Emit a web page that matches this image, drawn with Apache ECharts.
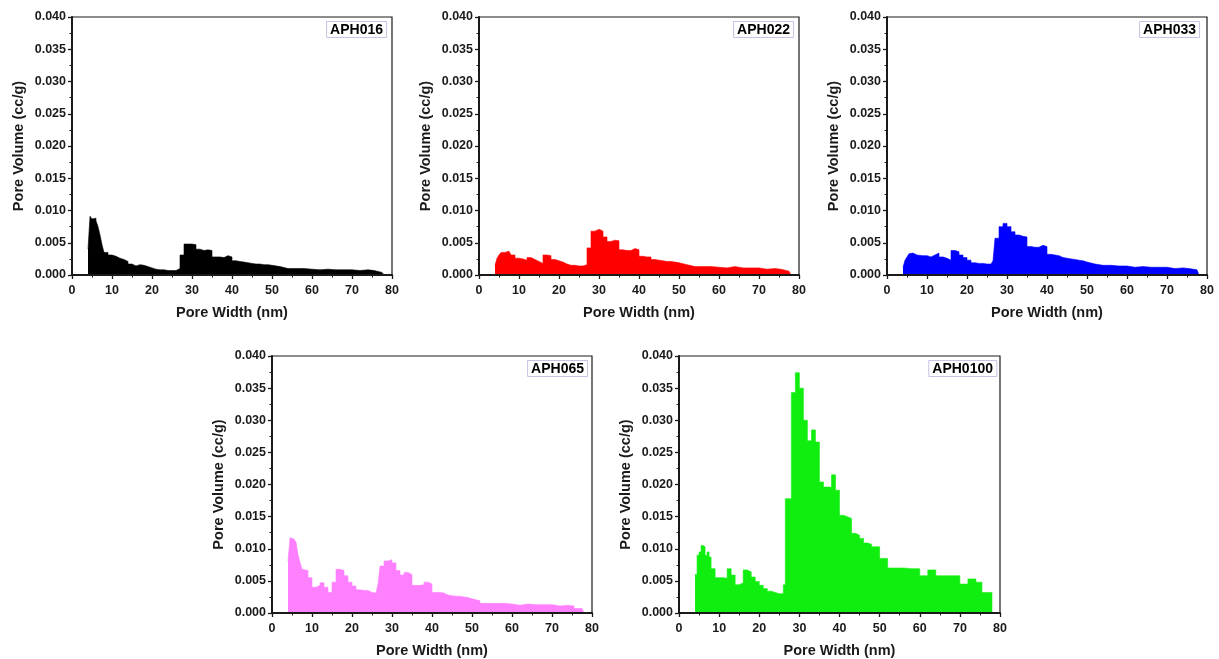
<!DOCTYPE html>
<html>
<head>
<meta charset="utf-8">
<script src="https://cdn.jsdelivr.net/npm/echarts@6/dist/echarts.min.js"></script>
<style>
    html, body {margin: 0; padding: 0; background: #fff;}
    #chart {width: 1219px; height: 659px;}
</style>
</head>
<body>
<div id="chart"></div>
<script>
// pore width grid (nm), shared by all samples
var poreWidth = [4, 4.5, 5, 5.5, 6, 6.5, 7, 7.5, 8,
    9, 10, 11, 12, 13, 14, 15, 16, 17, 18, 19, 20, 21, 22, 23, 24, 25, 26, 26.5,
    27, 28, 29, 30, 31, 32, 33, 34, 35, 36, 37, 38, 39, 40, 41, 42, 43, 44, 45, 46, 47, 48, 49, 50,
    52, 54, 56, 58, 60, 62, 64, 66, 68, 70, 72, 74, 75.5, 77.5, 78];

var aph016 = [0.0040, 0.0091, 0.0087, 0.0088, 0.0084, 0.0075, 0.0062, 0.0047, 0.0035,
    0.0031, 0.0029, 0.0026, 0.0024, 0.0021, 0.0017, 0.0014, 0.0016, 0.0015, 0.0013, 0.0011, 0.0009, 0.0008, 0.0008, 0.0007, 0.0007, 0.0007, 0.0007, 0.0010,
    0.0031, 0.0048, 0.0048, 0.0047, 0.0040, 0.0038, 0.0039, 0.0038, 0.0028, 0.0028, 0.0027, 0.0030, 0.0028, 0.0022, 0.0021, 0.0020, 0.0019, 0.0018, 0.0017, 0.0017, 0.0016, 0.0016, 0.0015, 0.0013,
    0.0010, 0.0010, 0.0010, 0.0009, 0.0008, 0.0009, 0.0008, 0.0008, 0.0008, 0.0007, 0.0008, 0.0007, 0.0004, 0.0002, 0];

var aph022 = [0.0015, 0.0026, 0.0031, 0.0035, 0.0035, 0.0036, 0.0037, 0.0035, 0.0031,
    0.0026, 0.0025, 0.0023, 0.0027, 0.0024, 0.0021, 0.0018, 0.0031, 0.0030, 0.0024, 0.0022, 0.0020, 0.0017, 0.0015, 0.0015, 0.0014, 0.0014, 0.0015, 0.0016,
    0.0042, 0.0068, 0.0071, 0.0068, 0.0059, 0.0052, 0.0054, 0.0053, 0.0039, 0.0038, 0.0038, 0.0041, 0.0039, 0.0029, 0.0028, 0.0028, 0.0024, 0.0023, 0.0022, 0.0021, 0.0021, 0.0020, 0.0019, 0.0016,
    0.0013, 0.0013, 0.0013, 0.0012, 0.0011, 0.0013, 0.0011, 0.0011, 0.0011, 0.0009, 0.0010, 0.0009, 0.0006, 0.0006, 0];

var aph033 = [0.0012, 0.0023, 0.0028, 0.0033, 0.0034, 0.0032, 0.0031, 0.0032, 0.0030,
    0.0030, 0.0028, 0.0031, 0.0034, 0.0028, 0.0026, 0.0023, 0.0038, 0.0036, 0.0031, 0.0027, 0.0023, 0.0019, 0.0018, 0.0018, 0.0017, 0.0017, 0.0018, 0.0022,
    0.0057, 0.0075, 0.0080, 0.0075, 0.0067, 0.0062, 0.0060, 0.0059, 0.0044, 0.0043, 0.0043, 0.0046, 0.0044, 0.0032, 0.0031, 0.0030, 0.0027, 0.0026, 0.0025, 0.0024, 0.0023, 0.0022, 0.0020, 0.0017,
    0.0015, 0.0015, 0.0014, 0.0014, 0.0012, 0.0013, 0.0012, 0.0012, 0.0012, 0.0010, 0.0011, 0.0010, 0.0008, 0.0006, 0];

var aph065 = [0.0080, 0.0117, 0.0115, 0.0116, 0.0110, 0.0091, 0.0079, 0.0068, 0.0066,
    0.0055, 0.0040, 0.0043, 0.0047, 0.0040, 0.0032, 0.0048, 0.0068, 0.0066, 0.0058, 0.0048, 0.0042, 0.0036, 0.0035, 0.0035, 0.0032, 0.0031, 0.0031, 0.0045,
    0.0073, 0.0081, 0.0083, 0.0078, 0.0066, 0.0059, 0.0063, 0.0060, 0.0043, 0.0043, 0.0044, 0.0048, 0.0045, 0.0032, 0.0032, 0.0031, 0.0028, 0.0027, 0.0026, 0.0026, 0.0025, 0.0024, 0.0022, 0.0019,
    0.0015, 0.0015, 0.0015, 0.0014, 0.0012, 0.0014, 0.0013, 0.0013, 0.0013, 0.0011, 0.0012, 0.0011, 0.0007, 0.0005, 0];

var aph0100 = [0.0060, 0.0090, 0.0095, 0.0105, 0.0103, 0.0090, 0.0095, 0.0087, 0.0069,
    0.0055, 0.0055, 0.0054, 0.0069, 0.0059, 0.0044, 0.0047, 0.0067, 0.0064, 0.0056, 0.0049, 0.0043, 0.0038, 0.0034, 0.0032, 0.0030, 0.0030, 0.0044, 0.0178,
    0.0178, 0.0343, 0.0374, 0.0350, 0.0300, 0.0268, 0.0285, 0.0266, 0.0204, 0.0196, 0.0196, 0.0215, 0.0191, 0.0152, 0.0150, 0.0147, 0.0124, 0.0121, 0.0116, 0.0109, 0.0107, 0.0103, 0.0103, 0.0085,
    0.0070, 0.0070, 0.0069, 0.0069, 0.0058, 0.0067, 0.0058, 0.0058, 0.0058, 0.0045, 0.0053, 0.0048, 0.0032, 0.0032, 0];

var sampleNames = ['APH016', 'APH022', 'APH033', 'APH065', 'APH0100'];
var sampleData = [aph016, aph022, aph033, aph065, aph0100];
var sampleColors = ['#000000', '#ff0000', '#0000ff', '#ff80ff', '#10ee10'];

// panel boxes [left, top, width, height] and label box right offset
var panels = [
    [72, 17, 320, 258],
    [479, 17, 320, 258],
    [887, 17, 320, 258],
    [272, 356, 320, 258],
    [679, 356, 321, 258]
];
var labelRight = [832, 425, 19, 631, 222];

var font = "'Liberation Sans', Arial, sans-serif";

var myChart = echarts.init(document.getElementById('chart'));

var grids = [], xAxes = [], yAxes = [], series = [], titles = [];
panels.forEach(function (p, i) {
    grids.push({
        left: p[0], top: p[1], width: p[2], height: p[3],
        show: true, borderColor: '#1a1a1a', borderWidth: 1.2, backgroundColor: '#fff'
    });
    xAxes.push({
        type: 'value', gridIndex: i, min: 0, max: 80, interval: 10, z: 5,
        name: 'Pore Width (nm)', nameLocation: 'middle', nameGap: 30,
        nameTextStyle: {fontFamily: font, fontWeight: 'bold', fontSize: 14.5, color: '#1a1a1a'},
        axisLine: {show: true, lineStyle: {color: '#1a1a1a', width: 2}},
        axisTick: {show: true, length: 4, lineStyle: {color: '#1a1a1a', width: 1.3}},
        minorTick: {show: true, splitNumber: 2, length: 2.5, lineStyle: {color: '#1a1a1a', width: 1}},
        splitLine: {show: false},
        axisLabel: {fontFamily: font, fontWeight: 'bold', fontSize: 12.5, color: '#1a1a1a', margin: 9}
    });
    yAxes.push({
        type: 'value', gridIndex: i, min: 0, max: 0.04, interval: 0.005, z: 5,
        name: 'Pore Volume (cc/g)', nameLocation: 'middle', nameGap: 46,
        nameTextStyle: {fontFamily: font, fontWeight: 'bold', fontSize: 14.5, color: '#1a1a1a'},
        axisLine: {show: true, lineStyle: {color: '#1a1a1a', width: 2}},
        axisTick: {show: true, length: 4, lineStyle: {color: '#1a1a1a', width: 1.3}},
        minorTick: {show: true, splitNumber: 2, length: 2.5, lineStyle: {color: '#1a1a1a', width: 1}},
        splitLine: {show: false},
        axisLabel: {
            fontFamily: font, fontWeight: 'bold', fontSize: 12.5, color: '#1a1a1a', margin: 6,
            formatter: function (v) { return v.toFixed(3); }
        }
    });
    series.push({
        name: sampleNames[i],
        type: 'line',
        step: 'end',
        xAxisIndex: i, yAxisIndex: i,
        symbol: 'none',
        lineStyle: {color: sampleColors[i], width: 0.6},
        areaStyle: {color: sampleColors[i], opacity: 1},
        data: poreWidth.map(function (w, k) { return [w, sampleData[i][k]]; })
    });
    titles.push({
        text: sampleNames[i],
        right: labelRight[i], top: p[1] + 4,
        padding: [2, 4, 1, 4],
        borderWidth: 1, borderColor: '#c4c4e4',
        backgroundColor: '#fff',
        textStyle: {fontFamily: font, fontWeight: 'bold', fontSize: 14, color: '#000'}
    });
});

myChart.setOption({
    animation: false,
    backgroundColor: '#fff',
    title: titles,
    grid: grids,
    xAxis: xAxes,
    yAxis: yAxes,
    series: series
});
</script>
</body>
</html>
